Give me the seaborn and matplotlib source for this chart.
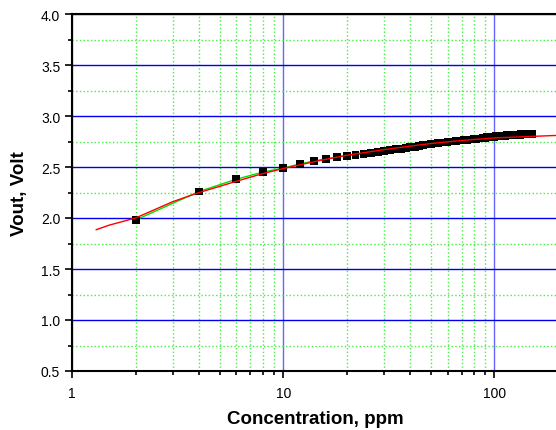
import numpy as np
import pandas as pd
import seaborn as sns
import matplotlib.pyplot as plt
from matplotlib.ticker import LogLocator, MultipleLocator, FixedFormatter, FixedLocator, NullFormatter

# measured points (concentration in ppm, output voltage)
conc = [2, 4, 6, 8, 10, 12, 14, 16, 18, 20, 22, 24, 26, 28, 30, 32, 34, 36, 38, 40,
        42, 44, 46, 48, 50, 52, 54, 56, 58, 60, 62, 64, 66, 68, 70, 72, 74, 76, 78, 80,
        82, 84, 86, 88, 90, 92, 94, 96, 98, 100, 102, 104, 106, 108, 110, 112, 114, 116,
        118, 120, 122, 124, 126, 128, 130, 132, 134, 136, 138, 140, 142, 144, 146, 148, 150]
vout = [1.98, 2.26, 2.38, 2.45, 2.49, 2.53, 2.56, 2.58, 2.60, 2.61, 2.62, 2.63, 2.64, 2.65,
        2.66, 2.665, 2.675, 2.68, 2.69, 2.70, 2.70, 2.71, 2.715, 2.72, 2.725, 2.73, 2.735,
        2.74, 2.74, 2.745, 2.75, 2.75, 2.755, 2.76, 2.76, 2.765, 2.765, 2.77, 2.77, 2.775,
        2.775, 2.78, 2.78, 2.785, 2.785, 2.79, 2.79, 2.79, 2.795, 2.795, 2.80, 2.80, 2.80,
        2.805, 2.805, 2.805, 2.81, 2.81, 2.81, 2.81, 2.81, 2.815, 2.815, 2.815, 2.815, 2.815,
        2.82, 2.82, 2.82, 2.82, 2.82, 2.82, 2.82, 2.825, 2.825]

# fitted curve
fit_conc = [1.3, 1.5, 2, 3, 4, 5, 6, 8, 10, 15, 20, 30, 40, 50, 70, 100, 150, 200]
fit_vout = [1.885, 1.93, 2.00, 2.16, 2.25, 2.31, 2.36, 2.435, 2.485, 2.565, 2.615,
            2.67, 2.705, 2.73, 2.76, 2.785, 2.80, 2.81]

x_ticklabels = ['1', '10', '100']

df = pd.DataFrame({'conc': conc, 'vout': vout})
fit = pd.DataFrame({'conc': fit_conc, 'vout': fit_vout})

sns.set_style('white')
plt.rcParams['font.family'] = ['Liberation Sans', 'DejaVu Sans']
plt.rcParams['text.color'] = 'black'
plt.rcParams['axes.labelcolor'] = 'black'

fig = plt.figure(figsize=(5.56, 4.31), dpi=100)
ax = fig.add_axes([72 / 556, 59 / 431, 486 / 556, 357 / 431])

sns.lineplot(data=df, x='conc', y='vout', color='#00dd00', linewidth=1, ax=ax, zorder=3)
sns.lineplot(data=fit, x='conc', y='vout', color='red', linewidth=1, ax=ax, zorder=5)
sns.scatterplot(data=df, x='conc', y='vout', marker='s', s=32, color='black',
                edgecolor='none', ax=ax, zorder=4)

ax.set_xscale('log')
ax.set_xlim(1, 200)
ax.set_ylim(0.5, 4.0)

ax.xaxis.set_major_locator(FixedLocator([1, 10, 100]))
ax.xaxis.set_major_formatter(FixedFormatter(x_ticklabels))
ax.xaxis.set_minor_locator(LogLocator(base=10, subs=np.arange(2, 10)))
ax.xaxis.set_minor_formatter(NullFormatter())
ax.yaxis.set_major_locator(MultipleLocator(0.5))
ax.yaxis.set_minor_locator(MultipleLocator(0.25))
ax.yaxis.set_major_formatter(plt.FuncFormatter(lambda v, p: f'{v:.1f}'))

ax.grid(which='major', axis='y', color='#0000ee', linestyle='-', linewidth=1)
ax.grid(which='major', axis='x', color='#6666ff', linestyle='-', linewidth=1)
ax.grid(which='minor', color='#44ee44', linestyle=':', linewidth=1)
ax.set_axisbelow(True)

for side in ['left', 'bottom', 'top']:
    ax.spines[side].set_visible(True)
    ax.spines[side].set_color('black')
    ax.spines[side].set_linewidth(1.5)
ax.spines['right'].set_visible(False)

ax.tick_params(which='major', direction='out', length=5, width=1.2, labelsize=10,
               colors='black', labelcolor='black')
ax.tick_params(which='minor', direction='out', length=3, width=1.2, colors='black')
ax.tick_params(axis='x', which='major', pad=6)
ax.tick_params(left=True, bottom=True, which='both')

ax.set_xlabel('Concentration, ppm', fontsize=13.5, fontweight='bold', labelpad=7, color='black')
ax.set_ylabel('Vout, Volt', fontsize=13.5, fontweight='bold', labelpad=9, color='black')

plt.savefig('out.png', dpi=100)
